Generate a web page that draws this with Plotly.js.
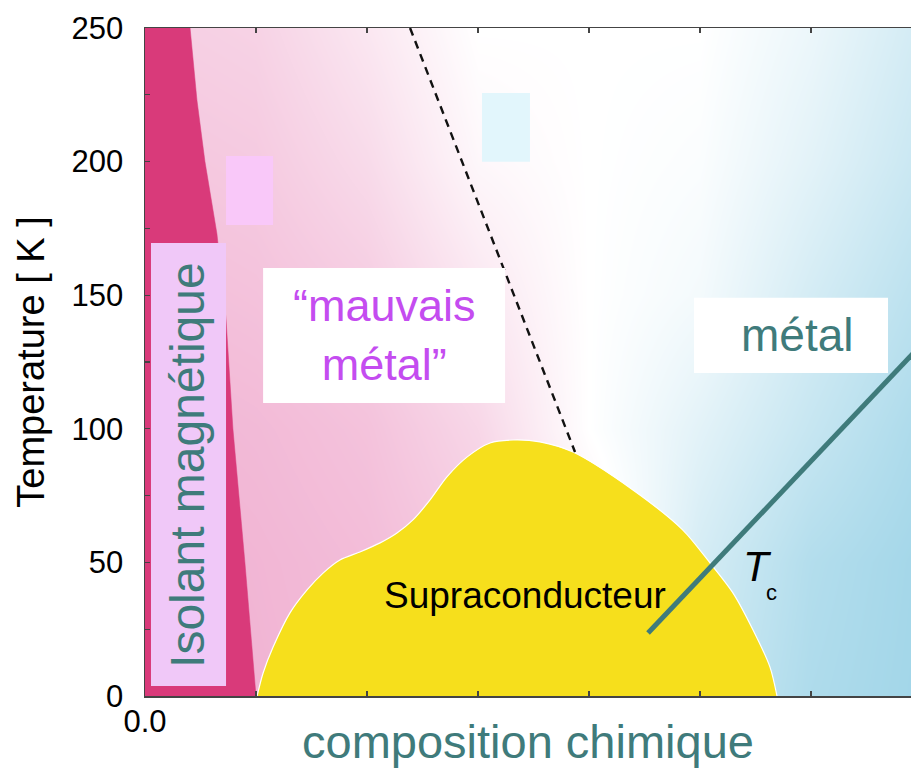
<!DOCTYPE html>
<html>
<head>
<meta charset="utf-8">
<script src="https://cdn.plot.ly/plotly-3.0.1.min.js"></script>
<style>html,body{margin:0;padding:0;background:#fff;}#chart{width:911px;height:768px;}</style>
</head>
<body>
<div id="chart"></div>
<script>
// ---- data (composition x, temperature T in K) ----
const yTickVals = [0, 25, 50, 75, 100, 125, 150, 175, 200, 225, 250];
const yTickText = ['0', '', '50', '', '100', '', '150', '', '200', '', '250'];
const xTickVals = [0, 0.05, 0.1, 0.15, 0.2, 0.25, 0.3];
const xTickText = ['0.0', '', '', '', '', '', ''];

// background shading grid: negative = "mauvais métal" pink, positive = metal blue
const bgX = [0, 0.05, 0.1, 0.15, 0.2, 0.25, 0.3, 0.345];
const bgT = [0, 50, 100, 150, 200, 250];
const bgZ0   = [-0.95, -0.92, -0.85, -0.70, -0.30, 0.55, 0.85, 0.97];
const bgZ50  = [-0.95, -0.90, -0.82, -0.65, -0.20, 0.45, 0.80, 0.95];
const bgZ100 = [-0.90, -0.85, -0.75, -0.50, 0.00, 0.30, 0.60, 0.85];
const bgZ150 = [-0.80, -0.75, -0.62, -0.30, 0.00, 0.12, 0.45, 0.70];
const bgZ200 = [-0.70, -0.65, -0.45, -0.10, 0.00, 0.05, 0.30, 0.55];
const bgZ250 = [-0.60, -0.55, -0.30, 0.00, 0.00, 0.00, 0.20, 0.45];

// antiferromagnetic insulator boundary
const afX = [0.0500, 0.0450, 0.0396, 0.0365, 0.0324, 0.0270, 0.0234, 0.0203];
const afT = [0, 50, 100, 141, 173, 200, 223, 250];

// superconducting dome
const domeX = [0.0505, 0.0532, 0.0577, 0.0653, 0.0730, 0.0802, 0.0878, 0.0968, 0.1059, 0.1135, 0.1207, 0.1284, 0.1360, 0.1450, 0.1554, 0.1658, 0.1779, 0.1928, 0.2198, 0.2423, 0.2545, 0.2649, 0.2739, 0.2815, 0.2847];
const domeT = [0, 8.6, 18.3, 31.1, 39.7, 46.0, 50.9, 53.9, 57.3, 61.0, 65.9, 73.4, 82.0, 89.4, 94.7, 95.8, 95.1, 91.3, 77.1, 62.1, 49.8, 38.5, 24.7, 10.9, 0];

// pseudogap crossover (dashed)
const pgX = [0.1194, 0.1559, 0.1937];
const pgT = [250, 172.0, 91.3];

// Tc line
const tcX = [0.2266, 0.35];
const tcT = [23.6, 131.7];

// ---- build ----
const teal = '#3f7b7b';
const font = 'Liberation Sans, Arial, sans-serif';

const traces = [
  {
    type: 'heatmap', x: bgX, y: bgT,
    z: [bgZ0, bgZ50, bgZ100, bgZ150, bgZ200, bgZ250],
    zmin: -1, zmax: 1, zsmooth: 'best', showscale: false, hoverinfo: 'skip',
    colorscale: [[0, '#f0aed0'], [0.5, '#ffffff'], [1, '#a0d5e8']]
  },
  {
    type: 'scatter', mode: 'lines', hoverinfo: 'skip',
    x: [0].concat(afX, [0]), y: [0].concat(afT, [250]),
    fill: 'toself', fillcolor: '#d93a7a', line: {color: '#d93a7a', width: 0.5}
  },
  {
    type: 'scatter', mode: 'lines', hoverinfo: 'skip',
    x: domeX, y: domeT, fill: 'toself', fillcolor: '#f6df1c',
    line: {color: '#ffffff', width: 1.2, shape: 'spline', smoothing: 0.8}
  },
  {
    type: 'scatter', mode: 'lines', hoverinfo: 'skip',
    x: pgX, y: pgT, line: {color: '#111', width: 2.4, dash: '8px,6px'}
  },
  {
    type: 'scatter', mode: 'lines', hoverinfo: 'skip',
    x: tcX, y: tcT, line: {color: teal, width: 5}
  }
];

const layout = {
  width: 911, height: 768,
  margin: {l: 145, r: 0, t: 28, b: 72, pad: 0},
  paper_bgcolor: '#ffffff', plot_bgcolor: '#ffffff',
  showlegend: false,
  font: {family: font, color: '#000'},
  xaxis: {
    range: [0, 0.34505], showgrid: false, zeroline: false,
    showline: true, linecolor: '#444', linewidth: 1.5, mirror: 'ticks',
    ticks: 'inside', ticklen: 5, tickcolor: '#444', tickwidth: 1.2,
    tickvals: xTickVals, ticktext: xTickText, ticklabelstandoff: -3,
    tickfont: {size: 31, family: font, color: '#000'},
    title: {text: 'composition chimique', standoff: 2, font: {size: 47, color: teal, family: font}}
  },
  yaxis: {
    range: [0, 250], showgrid: false, zeroline: false,
    showline: true, linecolor: '#444', linewidth: 1.5, mirror: false,
    ticks: 'inside', ticklen: 5, tickcolor: '#444', tickwidth: 1.2,
    tickvals: yTickVals, ticktext: yTickText, ticklabelstandoff: 14,
    tickfont: {size: 31, family: font, color: '#000'},
    title: {text: 'Temperature [ K ]', standoff: 15, font: {size: 38, color: '#000', family: font}}
  },
  shapes: [
    {type: 'rect', xref: 'x', yref: 'y', x0: 0.0027, x1: 0.0365, y0: 3.7, y1: 169.5, fillcolor: '#f0c8f8', line: {width: 0}, layer: 'above'},
    {type: 'rect', xref: 'x', yref: 'y', x0: 0.0365, x1: 0.0577, y0: 176.3, y1: 202.1, fillcolor: '#f9c8f9', line: {width: 0}, layer: 'above'},
    {type: 'rect', xref: 'x', yref: 'y', x0: 0.1518, x1: 0.1734, y0: 199.9, y1: 225.7, fillcolor: '#e2f6fc', line: {width: 0}, layer: 'above'},
    {type: 'rect', xref: 'x', yref: 'y', x0: 0.0532, x1: 0.1622, y0: 109.7, y1: 160.2, fillcolor: '#ffffff', line: {width: 0}, layer: 'above'},
    {type: 'rect', xref: 'x', yref: 'y', x0: 0.2473, x1: 0.3347, y0: 120.9, y1: 149.0, fillcolor: '#ffffff', line: {width: 0}, layer: 'above'}
  ],
  annotations: [
    {x: 0.0194, y: 86.5, xref: 'x', yref: 'y', text: 'Isolant magnétique', textangle: -90, showarrow: false,
     font: {size: 48, color: teal, family: font}},
    {x: 0.1077, y: 135.1, xref: 'x', yref: 'y', text: '“mauvais<br>métal”', showarrow: false,
     font: {size: 45, color: '#c44cf0', family: font}},
    {x: 0.2937, y: 135.1, xref: 'x', yref: 'y', text: 'métal', showarrow: false,
     font: {size: 46, color: teal, family: font}},
    {x: 0.1712, y: 37.8, xref: 'x', yref: 'y', text: 'Supraconducteur', showarrow: false,
     font: {size: 37, color: '#000', family: font}},
    {x: 0.2757, y: 48.3, xref: 'x', yref: 'y', text: '<i>T</i>', showarrow: false,
     font: {size: 42, color: '#000', family: font}},
    {x: 0.2824, y: 38.9, xref: 'x', yref: 'y', text: 'c', showarrow: false,
     font: {size: 22, color: '#000', family: font}}
  ]
};

Plotly.newPlot('chart', traces, layout, {displayModeBar: false, staticPlot: true});
</script>
</body>
</html>
